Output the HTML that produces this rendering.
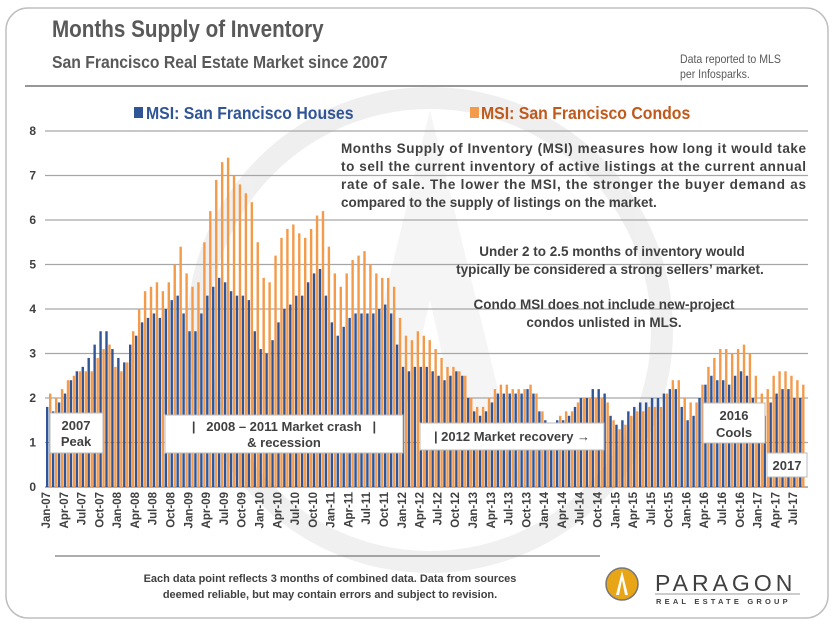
<!DOCTYPE html>
<html><head><meta charset="utf-8"><style>
body{margin:0;background:#fff;}
svg{display:block;font-family:"Liberation Sans",Arial,sans-serif;}
</style></head><body>
<svg id="chart" width="835" height="626" viewBox="0 0 835 626">
<rect x="6" y="8" width="822" height="610" rx="22" fill="#fff" stroke="#bfbfbf" stroke-width="1.5"/>
<g opacity="0.6">
<circle cx="430" cy="330" r="232" fill="none" stroke="#e6e6e6" stroke-width="22"/>
<path d="M430 110 L520 480 L470 480 L430 300 L390 480 L340 480 Z" fill="#efefef"/>
</g>
<g transform="translate(52,37) scale(0.86,1)"><text font-size="24" font-weight="bold" fill="#595959">Months Supply of Inventory</text></g>
<g transform="translate(52,68) scale(0.9,1)"><text font-size="17.5" font-weight="bold" fill="#595959">San Francisco Real Estate Market since 2007</text></g>
<g transform="translate(680,63) scale(0.88,1)" fill="#595959" font-size="12"><text>Data reported to MLS</text><text y="15">per Infosparks.</text></g>
<line x1="25" y1="86" x2="808" y2="86" stroke="#595959" stroke-width="1.2"/>
<g>
<rect x="134" y="107" width="9" height="11" fill="#2F5597"/>
<g transform="translate(146,119) scale(0.88,1)"><text font-size="18" font-weight="bold" fill="#2F5597">MSI: San Francisco Houses</text></g>
<rect x="470" y="107" width="9" height="11" fill="#F39A4B"/>
<g transform="translate(481,119) scale(0.88,1)"><text font-size="18" font-weight="bold" fill="#C05A1C">MSI: San Francisco Condos</text></g>
</g>
<g id="grid"></g>
<g id="yticks"></g>
<g id="bars"></g>
<g id="xticks"></g>
<g fill="#404040" font-size="13.5" font-weight="bold">
<text x="341" y="153" textLength="465" lengthAdjust="spacing">Months Supply of Inventory (MSI) measures how long it would take</text>
<text x="341" y="171" textLength="465" lengthAdjust="spacing">to sell the current inventory of active listings at the current annual</text>
<text x="341" y="189" textLength="465" lengthAdjust="spacing">rate of sale. The lower the MSI, the stronger the buyer demand as</text>
<text x="341" y="207">compared to the supply of listings on the market.</text>
</g>
<g fill="#404040" font-size="13.5" font-weight="bold" text-anchor="middle">
<text x="612" y="256">Under 2 to 2.5 months of inventory would</text>
<text x="610" y="274">typically be considered a strong sellers’ market.</text>
<text x="604" y="309">Condo MSI does not include new-project</text>
<text x="604" y="327">condos unlisted in MLS.</text>
</g>
<g font-size="13" font-weight="bold" fill="#404040" text-anchor="middle">
<g><rect x="50" y="413" width="53" height="40" fill="#fff" stroke="#bbb"/><text x="76" y="430">2007</text><text x="76" y="446">Peak</text></g>
<g><rect x="165" y="415" width="238" height="38" fill="#fff" stroke="#bbb"/><text x="284" y="431" xml:space="preserve">|   2008 – 2011 Market crash   |</text><text x="284" y="447">&amp; recession</text></g>
<g><rect x="420" y="423" width="184" height="27" fill="#fff" stroke="#bbb"/><text x="512" y="441">| 2012 Market recovery →</text></g>
<g><rect x="703" y="403" width="62" height="40" fill="#fff" stroke="#bbb"/><text x="734" y="420">2016</text><text x="734" y="437">Cools</text></g>
<g><rect x="767" y="453" width="40" height="24" fill="#fff" stroke="#bbb"/><text x="787" y="470">2017</text></g>
</g>
<line x1="55" y1="556" x2="600" y2="556" stroke="#595959" stroke-width="1"/>
<g font-size="11" font-weight="bold" fill="#404040" text-anchor="middle">
<text x="330" y="582">Each data point reflects 3 months of combined data. Data from sources</text>
<text x="330" y="598">deemed reliable, but may contain errors and subject to revision.</text>
</g>
<g>
<circle cx="622" cy="584" r="16" fill="#E8A517" stroke="#777" stroke-width="1.5"/>
<path d="M622 571 L628 595 L625 595 L622 580 L619 595 L616 595 Z" fill="#fff"/>
<text x="655" y="591" font-size="23" fill="#404040" letter-spacing="4">PARAGON</text>
<line x1="655" y1="594" x2="800" y2="594" stroke="#999" stroke-width="1"/>
<text x="656" y="604" font-size="7.5" font-weight="bold" fill="#404040" letter-spacing="3.2">REAL ESTATE GROUP</text>
</g>
</svg>
<script>
const months = ["Jan","Feb","Mar","Apr","May","Jun","Jul","Aug","Sep","Oct","Nov","Dec"];
const yTicks = [0,1,2,3,4,5,6,7,8];
const housesMSI = [
1.8,1.7,1.9,2.1,2.4,2.6,2.7,2.9,3.2,3.5,3.5,3.1,
2.9,2.8,3.2,3.4,3.7,3.8,3.9,3.8,4.0,4.2,4.3,3.9,
3.5,3.5,3.9,4.3,4.5,4.7,4.6,4.4,4.3,4.3,4.2,3.5,
3.1,3.0,3.3,3.7,4.0,4.1,4.3,4.3,4.6,4.8,4.9,4.3,
3.7,3.4,3.6,3.8,3.9,3.9,3.9,3.9,4.0,4.1,3.9,3.2,
2.7,2.6,2.7,2.7,2.7,2.6,2.5,2.4,2.5,2.6,2.5,2.0,
1.7,1.6,1.7,1.9,2.1,2.1,2.1,2.1,2.1,2.2,2.1,1.7,
1.5,1.4,1.5,1.5,1.6,1.8,2.0,2.0,2.2,2.2,2.1,1.6,
1.4,1.5,1.7,1.8,1.9,1.9,2.0,2.0,2.1,2.2,2.2,1.8,
1.5,1.6,2.0,2.3,2.5,2.4,2.4,2.3,2.5,2.6,2.5,2.0,
1.8,1.6,1.9,2.1,2.2,2.2,2.0,2.0];
const condosMSI = [
2.1,2.0,2.2,2.4,2.5,2.6,2.6,2.6,2.9,3.1,3.2,2.7,
2.6,2.8,3.5,4.0,4.4,4.5,4.6,4.4,4.6,5.0,5.4,4.8,
4.5,4.6,5.5,6.2,6.9,7.3,7.4,7.0,6.8,6.6,6.4,5.5,
4.7,4.6,5.2,5.6,5.8,5.9,5.7,5.6,5.8,6.1,6.2,5.4,
4.8,4.5,4.8,5.1,5.2,5.3,5.0,4.8,4.7,4.7,4.5,3.8,
3.4,3.3,3.5,3.4,3.3,3.1,2.9,2.7,2.7,2.6,2.5,2.0,
1.8,1.8,2.0,2.2,2.3,2.3,2.2,2.2,2.2,2.3,2.1,1.7,
1.4,1.4,1.6,1.7,1.7,1.9,2.0,2.0,2.0,2.0,1.9,1.5,
1.3,1.4,1.6,1.7,1.7,1.8,1.8,1.8,2.1,2.4,2.4,2.0,
1.9,1.9,2.3,2.7,2.9,3.1,3.1,3.0,3.1,3.2,3.0,2.5,
2.1,2.2,2.5,2.6,2.6,2.5,2.4,2.3];
const startYear = 2007;
const NS = "http://www.w3.org/2000/svg";
const plot = {left:45, right:808, top:131, bottom:487, x0:47, step:5.93, yMax:8};
function yScale(v){ return plot.bottom - v/plot.yMax*(plot.bottom-plot.top); }
function xScale(i){ return plot.x0 + i*plot.step; }
function mk(tag, attrs){ const e=document.createElementNS(NS,tag); for(const k in attrs) e.setAttribute(k,attrs[k]); return e; }
const grid=document.getElementById('grid'), yt=document.getElementById('yticks'), bars=document.getElementById('bars'), xt=document.getElementById('xticks');
yTicks.forEach(t=>{
  const l=mk('line',{x1:plot.left,x2:plot.right,y1:yScale(t),y2:yScale(t),stroke:t===0?'#888':'#a6a6a6','stroke-width':1.3});
  
  
  grid.appendChild(l);
  const tx=mk('text',{x:36,y:yScale(t)+4,'text-anchor':'end','font-size':12,'font-weight':'bold',fill:'#404040'});
  tx.textContent=t;
  
  
  yt.appendChild(tx);
});
housesMSI.forEach((v,i)=>{
  const r=mk('rect',{x:xScale(i)-1,y:yScale(v),width:2.4,height:plot.bottom-yScale(v),fill:'#2F5597'});
  
  
  bars.appendChild(r);
});
condosMSI.forEach((v,i)=>{
  const r=mk('rect',{x:xScale(i)+2,y:yScale(v),width:2.4,height:plot.bottom-yScale(v),fill:'#F39A4B'});
  
  
  bars.appendChild(r);
});
for(let i=0;i<housesMSI.length;i+=3){
  const lbl=months[i%12]+'-'+String((startYear+Math.floor(i/12))%100).padStart(2,'0');
  const x=xScale(i)+3, y=492;
  const tx=mk('text',{x:x,y:y,'text-anchor':'end','font-size':11.5,'font-weight':'bold',fill:'#404040',transform:'rotate(-90 '+x+' '+y+')'});
  tx.textContent=lbl;
  
  
  xt.appendChild(tx);
}
</script>
</body></html>
